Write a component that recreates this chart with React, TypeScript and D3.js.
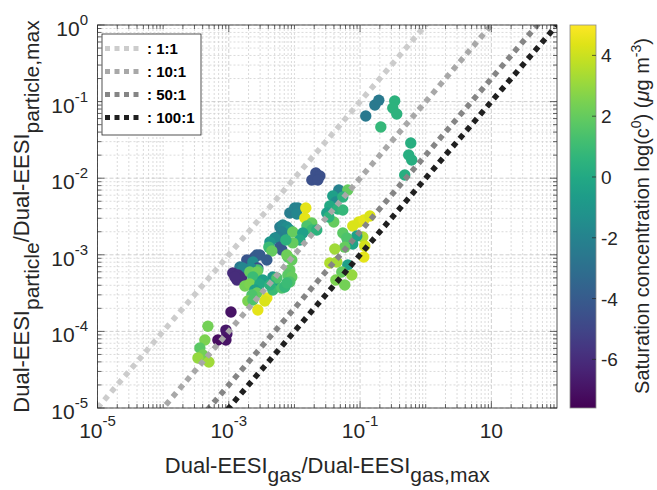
import React from 'react'
import * as d3 from 'd3'

// Dual-EESI signal ratios
const gasRatio = [
  0.168, 0.193, 0.122, 0.337, 0.315, 0.362, 0.207, 0.592, 0.551, 0.612, 0.479,
  0.0212, 0.0244, 0.0184, 0.0227,
  0.0474, 0.0384, 0.065, 0.0427, 0.0546, 0.0346, 0.0458, 0.0546, 0.0311, 0.0398, 0.0334,
  0.0774, 0.0955, 0.114, 0.141, 0.11, 0.118, 0.114,
  0.0891, 0.065, 0.0774, 0.0546, 0.0627, 0.0585, 0.0412, 0.0346, 0.0442, 0.065, 0.0526, 0.0427, 0.0748, 0.0585,
  0.00851, 0.0101, 0.0113, 0.0109, 0.0149, 0.0144, 0.0184, 0.0155, 0.0184, 0.0219,
  0.006, 0.00665, 0.00766, 0.00851, 0.00643, 0.00558, 0.00503, 0.00423, 0.006, 0.00643,
  0.00946, 0.0134, 0.0121, 0.00946, 0.0074, 0.00407, 0.00453, 0.00794, 0.00912, 0.00766, 0.00851, 0.00794,
  0.00469, 0.00503, 0.00912, 0.00851,
  0.00249, 0.00225, 0.00188, 0.00268, 0.00297, 0.0038, 0.00233, 0.00277, 0.00277, 0.00217, 0.00148, 0.00164,
  0.00115, 0.00138, 0.00158, 0.00133, 0.00124,
  0.00209, 0.00268, 0.00233, 0.00176, 0.00209, 0.0033, 0.00297, 0.00249, 0.00268, 0.00225, 0.0038, 0.00354,
  0.00195, 0.00233, 0.00277, 0.00469, 0.00643, 0.00714, 0.00766, 0.0054, 0.00423,
  0.00108, 0.000904, 0.000935, 0.000682, 0.000904,
  0.000481, 0.000432, 0.000363, 0.000404, 0.000339, 0.000498,
]
const particleRatio = [
  0.0903, 0.104, 0.0649, 0.102, 0.0825, 0.0689, 0.0466, 0.0288, 0.0201, 0.0173, 0.011,
  0.0117, 0.0107, 0.00947, 0.00947,
  0.00701, 0.00586, 0.00701, 0.00489, 0.00568, 0.00434, 0.00396, 0.00385, 0.00352, 0.00268, 0.00311,
  0.00238, 0.00268, 0.00285, 0.00321, 0.00171, 0.0013, 0.000936,
  0.00176, 0.00156, 0.00138, 0.00193, 0.00166, 0.00126, 0.00119, 0.000782, 0.000805, 0.000736, 0.000596, 0.000469, 0.000545, 0.000404,
  0.00352, 0.00408, 0.00408, 0.00341, 0.00408, 0.00302, 0.0026, 0.00238, 0.00211, 0.00211,
  0.00231, 0.00245, 0.00231, 0.00211, 0.00199, 0.00171, 0.00166, 0.00147, 0.00126, 0.00116,
  0.00199, 0.00193, 0.00156, 0.00143, 0.00156, 0.00126, 0.00112, 0.000936, 0.000855, 0.000994, 0.000633, 0.000545,
  0.000513, 0.000455, 0.000513, 0.000442,
  0.000936, 0.000855, 0.000855, 0.000994, 0.000994, 0.000855, 0.000805, 0.000672, 0.000633, 0.000672, 0.000693, 0.000672,
  0.000579, 0.000545, 0.000498, 0.000469, 0.000513,
  0.000596, 0.000596, 0.000513, 0.000391, 0.000416, 0.000469, 0.000416, 0.000347, 0.000317, 0.000299, 0.000273, 0.000249,
  0.000249, 0.000257, 0.00019, 0.000347, 0.000369, 0.00038, 0.000428, 0.000498, 0.000404,
  0.000179, 0.000104, 0.0000924, 0.0000772, 0.0000772,
  0.000117, 0.0000772, 0.0000607, 0.0000492, 0.000045, 0.0000399,
]
// log10 saturation concentration (colour)
const satConc = [
  -2.5, -2.5, -2.5, 0.5, 0.5, 0.5, 0.8, 0.3, 0.3, 0.3, 0.3,
  -4.5, -4.5, -4.5, -4.5,
  -2, -0.5, 2, -1.5, 0.5, 0, 0.5, 0.8, -0.5, 2, 0.5,
  4.3, 4.3, 4.5, 4.3, 3.5, 4.2, 4.5,
  -0.5, -0.8, -0.3, 1.8, 1.5, 2, 3.2, 3.5, 3.3, -0.5, 2, 2.5, 3, 2.3,
  -2.3, -2, -2, -1.8, 4.5, 4.5, 2, 1.5, 1, 0.5,
  -2.3, -1.8, -1.5, -1, -2, -2.2, -1.5, -1, -4, -4.2,
  2, -0.5, 0, 2, 0.5, 1, 2, 1.5, 2, 2.2, 2, 1.8,
  -1, -0.5, 2, 1.5,
  -4.3, -4.3, -4.3, -4, -4, -4, -1.5, -4.5, 1.5, -1.5, -2.5, -1.8,
  -6, -6, -6, -6, -6,
  2, 2.2, 1, 2.3, 2.5, -0.5, 0, -0.5, 2, 1.5, 4.5, 4.3,
  2.5, 1.5, 4.5, 1, 1.5, 0.8, 1, 1.5, 0.5,
  -7, -6.8, -6.8, -7.2, -7,
  2.3, 2.5, 1.8, 2.3, 3, 3.2,
]

const ratios = [1, 10, 50, 100]
const ratioLabels = [': 1:1', ': 10:1', ': 50:1', ': 100:1']
const ratioColors = ['#cccccc', '#a8a8a8', '#858585', '#1f1f1f']
const xTickExps = [-5, -3, -1, 1]
const yTickExps = [0, -1, -2, -3, -4, -5]
const cTicks = [4, 2, 0, -2, -4, -6]

const W = 657
const H = 490
const L = 97.5
const R = 557
const T = 25
const B = 408
const FONT = 'Arial, "Liberation Sans", Helvetica, sans-serif'
const AX = '#262626'

const App = () => {
  const x = d3.scaleLog().domain([1e-5, 100]).range([L, R])
  const y = d3.scaleLog().domain([1e-5, 1]).range([B, T])
  const cDomain: [number, number] = [-7.6, 5.0]
  const color = d3.scaleSequential(d3.interpolateViridis).domain(cDomain)
  const cy = d3.scaleLinear().domain(cDomain).range([B, T])

  const xMajor = xTickExps.map((e) => Math.pow(10, e))
  const yMajor = yTickExps.map((e) => Math.pow(10, e))
  const minorVals = (lo: number, hi: number, major: number[]) => {
    const out: number[] = []
    for (let k = lo; k < hi; k++) {
      for (let m = 1; m <= 9; m++) {
        const v = m * Math.pow(10, k)
        if (!major.some((mj) => Math.abs(mj - v) / v < 1e-9)) out.push(v)
      }
    }
    return out
  }
  const xMinor = minorVals(-5, 2, xMajor)
  const yMinor = minorVals(-5, 0, yMajor)

  const points = gasRatio.map((g, i) => ({ g, p: particleRatio[i], c: satConc[i] }))

  const lineX = [1e-5, 100]
  const gradStops = d3.range(0, 1.0001, 0.05)

  return (
    <svg width={W} height={H} style={{ position: 'absolute', left: 0, top: 0, background: '#fff' }} fontFamily={FONT}>
      <defs>
        <clipPath id="plotClip">
          <rect x={L} y={T} width={R - L} height={B - T} />
        </clipPath>
        <linearGradient id="cbar" x1="0" y1="1" x2="0" y2="0">
          {gradStops.map((t) => (
            <stop key={t} offset={t} stopColor={d3.interpolateViridis(t)} />
          ))}
        </linearGradient>
      </defs>

      <rect x={L} y={T} width={R - L} height={B - T} fill="#fff" />

      {/* grid */}
      <g strokeWidth={0.8} fill="none">
        {xMinor.map((v) => (
          <line key={'gx' + v} x1={x(v)} x2={x(v)} y1={T} y2={B} stroke="#d2d2d2" strokeDasharray="2 2" />
        ))}
        {yMinor.map((v) => (
          <line key={'gy' + v} x1={L} x2={R} y1={y(v)} y2={y(v)} stroke="#d2d2d2" strokeDasharray="2 2" />
        ))}
        {xMajor.map((v) => (
          <line key={'Gx' + v} x1={x(v)} x2={x(v)} y1={T} y2={B} stroke="#c4c4c4" strokeDasharray="4 2" />
        ))}
        {yMajor.map((v) => (
          <line key={'Gy' + v} x1={L} x2={R} y1={y(v)} y2={y(v)} stroke="#c4c4c4" strokeDasharray="4 2" />
        ))}
      </g>

      {/* scatter */}
      <g clipPath="url(#plotClip)">
        {points.map((d, i) => (
          <circle key={i} cx={x(d.g)} cy={y(d.p)} r={5.7} fill={color(d.c)} />
        ))}
      </g>

      {/* ratio lines */}
      <g clipPath="url(#plotClip)" fill="none">
        {ratios.map((r, i) => (
          <line
            key={r}
            x1={x(lineX[0])}
            y1={y(lineX[0] / r)}
            x2={x(lineX[1])}
            y2={y(lineX[1] / r)}
            stroke={ratioColors[i]}
            strokeWidth={5.5}
            strokeDasharray="5.5 5"
          />
        ))}
      </g>

      {/* axes box and ticks */}
      <rect x={L} y={T} width={R - L} height={B - T} fill="none" stroke={AX} strokeWidth={0.8} />
      <g stroke={AX} strokeWidth={0.7}>
        {xMajor.map((v) => (
          <g key={'tx' + v}>
            <line x1={x(v)} x2={x(v)} y1={B} y2={B - 7} />
            <line x1={x(v)} x2={x(v)} y1={T} y2={T + 7} />
          </g>
        ))}
        {xMinor.map((v) => (
          <g key={'tmx' + v}>
            <line x1={x(v)} x2={x(v)} y1={B} y2={B - 4} />
            <line x1={x(v)} x2={x(v)} y1={T} y2={T + 4} />
          </g>
        ))}
        {yMajor.map((v) => (
          <g key={'ty' + v}>
            <line x1={L} x2={L + 7} y1={y(v)} y2={y(v)} />
            <line x1={R} x2={R - 7} y1={y(v)} y2={y(v)} />
          </g>
        ))}
        {yMinor.map((v) => (
          <g key={'tmy' + v}>
            <line x1={L} x2={L + 4} y1={y(v)} y2={y(v)} />
            <line x1={R} x2={R - 4} y1={y(v)} y2={y(v)} />
          </g>
        ))}
      </g>

      {/* tick labels */}
      <g fill={AX} fontSize={21}>
        {xTickExps.map((e) => (
          <text key={'lx' + e} x={x(Math.pow(10, e))} y={438} textAnchor="middle">
            {e === 1 ? (
              '10'
            ) : (
              <>
                10<tspan fontSize={15} dy={-12}>{e}</tspan>
              </>
            )}
          </text>
        ))}
        {yTickExps.map((e) => (
          <text key={'ly' + e} x={88} y={y(Math.pow(10, e)) + 11} textAnchor="end">
            10<tspan fontSize={15} dy={-11}>{e}</tspan>
          </text>
        ))}
      </g>

      {/* axis labels */}
      <text x={(L + R) / 2} y={473} textAnchor="middle" fontSize={22} fill={AX}>
        Dual-EESI<tspan fontSize={21} dy={9}>gas</tspan>
        <tspan dy={-9}>/Dual-EESI</tspan>
        <tspan fontSize={21} dy={9}>gas,max</tspan>
      </text>
      <text transform={`translate(29,${(T + B) / 2}) rotate(-90)`} textAnchor="middle" fontSize={22} fill={AX}>
        Dual-EESI<tspan fontSize={21} dy={10}>particle</tspan>
        <tspan dy={-10}>/Dual-EESI</tspan>
        <tspan fontSize={21} dy={10}>particle,max</tspan>
      </text>

      {/* legend */}
      <g>
        <rect x={102} y={34} width={99} height={101} fill="#fff" stroke={AX} strokeWidth={0.8} />
        {ratios.map((r, i) => {
          const ly = 48.5 + i * 23
          return (
            <g key={'lg' + r}>
              <line x1={105} x2={139} y1={ly} y2={ly} stroke={ratioColors[i]} strokeWidth={5} strokeDasharray="5 4.5" />
              <text x={147} y={ly + 5.5} fontSize={15} fontWeight="bold" fill="#000">
                {ratioLabels[i]}
              </text>
            </g>
          )
        })}
      </g>

      {/* colorbar */}
      <rect x={570} y={T} width={26} height={B - T} fill="url(#cbar)" stroke="#8c8c8c" strokeWidth={0.8} />
      <g stroke={AX} strokeWidth={0.7}>
        {cTicks.map((t) => (
          <line key={'ct' + t} x1={596} x2={592} y1={cy(t)} y2={cy(t)} />
        ))}
      </g>
      <g fill={AX} fontSize={19}>
        {cTicks.map((t) => (
          <text key={'cl' + t} x={601} y={cy(t) + 7}>
            {t}
          </text>
        ))}
      </g>
      <text transform={`translate(649,216) rotate(-90)`} textAnchor="middle" fontSize={20} fill={AX}>
        Saturation concentration log(c<tspan fontSize={14} dy={-8}>0</tspan>
        <tspan dy={8}>) (</tspan>
        <tspan fontStyle="italic">μ</tspan>g m<tspan fontSize={14} dy={-8}>-3</tspan>
        <tspan dy={8}>)</tspan>
      </text>
    </svg>
  )
}

export default App
